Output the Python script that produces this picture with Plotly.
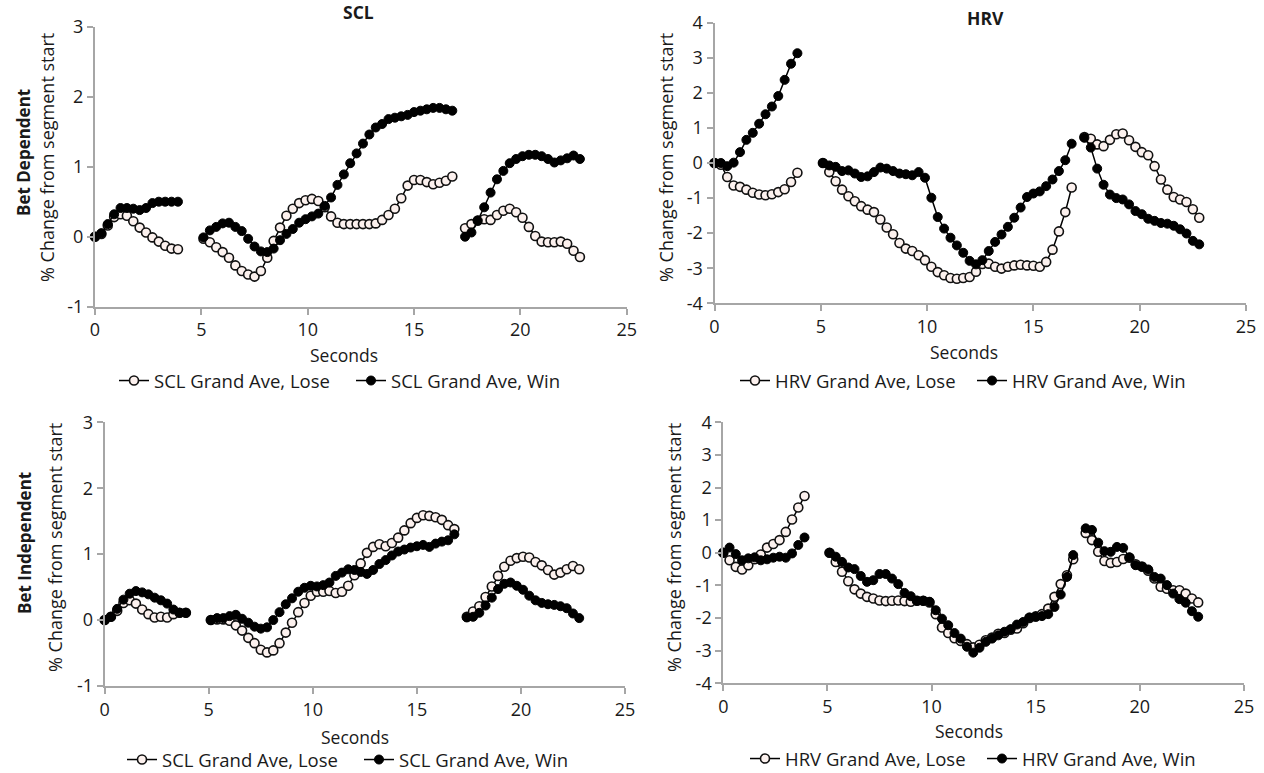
import plotly.graph_objects as go

# ---------------- time grid (seconds) ----------------
T1 = [0.0, 0.3, 0.6, 0.9, 1.2, 1.5, 1.8, 2.1, 2.4, 2.7, 3.0, 3.3, 3.6, 3.9]
T2 = [5.1, 5.4, 5.7, 6.0, 6.3, 6.6, 6.9, 7.2, 7.5, 7.8, 8.1, 8.4, 8.7, 9.0, 9.3, 9.6, 9.9, 10.2, 10.5, 10.8,
      11.1, 11.4, 11.7, 12.0, 12.3, 12.6, 12.9, 13.2, 13.5, 13.8, 14.1, 14.4, 14.7, 15.0, 15.3, 15.6, 15.9, 16.2, 16.5, 16.8]
T3 = [17.4, 17.7, 18.0, 18.3, 18.6, 18.9, 19.2, 19.5, 19.8, 20.1, 20.4, 20.7, 21.0, 21.3, 21.6, 21.9, 22.2, 22.5, 22.8]

# ---------------- SCL, Bet Dependent ----------------
scl_dep_lose = [0.0, 0.04, 0.16, 0.28, 0.32, 0.30, 0.22, 0.13, 0.06, -0.01, -0.07, -0.13, -0.17, -0.18,
                -0.03, -0.08, -0.15, -0.22, -0.30, -0.41, -0.49, -0.54, -0.57, -0.49, -0.30, -0.06, 0.13, 0.30, 0.40,
                0.48, 0.52, 0.54, 0.51, 0.42, 0.29, 0.20, 0.18, 0.18, 0.18, 0.18, 0.18, 0.19, 0.24, 0.31, 0.40,
                0.55, 0.73, 0.81, 0.81, 0.78, 0.75, 0.77, 0.80, 0.86,
                0.12, 0.18, 0.23, 0.25, 0.24, 0.31, 0.37, 0.40, 0.35, 0.27, 0.14, 0.01, -0.07, -0.08, -0.08, -0.07,
                -0.10, -0.20, -0.29]
scl_dep_win = [0.0, 0.05, 0.18, 0.32, 0.41, 0.41, 0.40, 0.38, 0.41, 0.48, 0.50, 0.50, 0.50, 0.50,
               -0.01, 0.09, 0.14, 0.19, 0.20, 0.14, 0.08, -0.03, -0.14, -0.21, -0.22, -0.17, -0.05, 0.04, 0.11,
               0.20, 0.25, 0.29, 0.33, 0.44, 0.56, 0.74, 0.89, 1.05, 1.19, 1.33, 1.46, 1.56, 1.61, 1.68, 1.70,
               1.72, 1.74, 1.78, 1.80, 1.82, 1.84, 1.84, 1.82, 1.80,
               0.0, 0.06, 0.23, 0.42, 0.63, 0.82, 0.94, 1.05, 1.11, 1.15, 1.17, 1.17, 1.15, 1.11, 1.06, 1.09,
               1.12, 1.16, 1.11]

# ---------------- HRV, Bet Dependent ----------------
hrv_dep_lose = [0.0, -0.05, -0.40, -0.64, -0.68, -0.76, -0.85, -0.90, -0.92, -0.89, -0.83, -0.75, -0.54, -0.28,
                0.0, -0.26, -0.52, -0.76, -0.95, -1.09, -1.23, -1.33, -1.40, -1.61, -1.84, -2.03, -2.28, -2.44,
                -2.51, -2.63, -2.77, -2.96, -3.11, -3.20, -3.28, -3.30, -3.28, -3.25, -3.10, -2.88, -2.87, -2.96,
                -3.01, -2.96, -2.92, -2.90, -2.92, -2.93, -2.96, -2.82, -2.47, -1.95, -1.40, -0.70,
                0.74, 0.69, 0.53, 0.48, 0.66, 0.82, 0.84, 0.65, 0.46, 0.31, 0.22, -0.09, -0.47, -0.76, -0.97,
                -1.04, -1.11, -1.32, -1.56]
hrv_dep_win = [0.0, 0.0, -0.09, 0.01, 0.31, 0.66, 0.86, 1.12, 1.39, 1.61, 1.91, 2.37, 2.83, 3.13,
               0.0, -0.07, -0.11, -0.23, -0.21, -0.30, -0.40, -0.38, -0.26, -0.13, -0.16, -0.23, -0.30, -0.32,
               -0.35, -0.26, -0.42, -0.99, -1.54, -1.87, -2.13, -2.35, -2.56, -2.79, -2.89, -2.77, -2.51, -2.25,
               -2.04, -1.82, -1.56, -1.27, -0.97, -0.87, -0.81, -0.66, -0.47, -0.23, 0.08, 0.55,
               0.72, 0.44, -0.16, -0.62, -0.90, -1.00, -1.04, -1.18, -1.37, -1.46, -1.59, -1.65, -1.71, -1.73,
               -1.79, -1.89, -2.01, -2.22, -2.32]

# ---------------- SCL, Bet Independent ----------------
scl_ind_lose = [0.0, 0.05, 0.14, 0.26, 0.30, 0.25, 0.16, 0.09, 0.04, 0.05, 0.04, 0.09, 0.11, 0.11,
                0.0, 0.01, 0.01, -0.01, -0.08, -0.16, -0.27, -0.35, -0.45, -0.49, -0.46, -0.35, -0.19, -0.04,
                0.12, 0.26, 0.37, 0.43, 0.43, 0.44, 0.41, 0.43, 0.52, 0.68, 0.86, 1.02, 1.11, 1.15, 1.12, 1.17,
                1.25, 1.36, 1.47, 1.55, 1.59, 1.58, 1.56, 1.52, 1.44, 1.38,
                0.05, 0.13, 0.21, 0.35, 0.51, 0.67, 0.81, 0.90, 0.94, 0.96, 0.95, 0.88, 0.83, 0.76, 0.69, 0.72,
                0.77, 0.82, 0.77]
scl_ind_win = [0.0, 0.05, 0.17, 0.31, 0.40, 0.44, 0.42, 0.39, 0.34, 0.30, 0.25, 0.16, 0.11, 0.11,
               0.0, 0.03, 0.03, 0.06, 0.08, 0.02, -0.04, -0.10, -0.13, -0.11, 0.0, 0.12, 0.24, 0.33, 0.43, 0.49,
               0.52, 0.51, 0.53, 0.57, 0.67, 0.72, 0.77, 0.76, 0.73, 0.70, 0.76, 0.85, 0.91, 0.98, 1.04, 1.07,
               1.10, 1.12, 1.14, 1.11, 1.16, 1.19, 1.21, 1.30,
               0.04, 0.05, 0.11, 0.22, 0.34, 0.47, 0.55, 0.57, 0.52, 0.46, 0.37, 0.30, 0.26, 0.24, 0.23, 0.21,
               0.18, 0.10, 0.03]

# ---------------- HRV, Bet Independent ----------------
hrv_ind_lose = [0.0, -0.23, -0.43, -0.51, -0.38, -0.20, -0.05, 0.16, 0.27, 0.39, 0.64, 1.02, 1.39, 1.74,
                0.0, -0.28, -0.58, -0.87, -1.12, -1.25, -1.35, -1.40, -1.46, -1.48, -1.47, -1.46, -1.48, -1.50,
                -1.47, -1.47, -1.52, -1.88, -2.29, -2.46, -2.62, -2.70, -2.80, -2.90, -2.82, -2.68, -2.60, -2.48,
                -2.46, -2.36, -2.32, -2.16, -2.00, -1.95, -1.88, -1.71, -1.35, -0.96, -0.69, -0.20,
                0.61, 0.39, 0.03, -0.25, -0.31, -0.28, -0.19, -0.15, -0.35, -0.42, -0.55, -0.79, -1.04, -1.10,
                -1.15, -1.15, -1.25, -1.40, -1.52]
hrv_ind_win = [0.0, 0.16, -0.04, -0.23, -0.17, -0.14, -0.23, -0.20, -0.15, -0.12, -0.15, -0.02, 0.24, 0.47,
               0.0, -0.12, -0.28, -0.45, -0.50, -0.71, -0.89, -0.84, -0.65, -0.65, -0.79, -0.96, -1.23, -1.33,
               -1.47, -1.47, -1.50, -1.76, -2.02, -2.22, -2.46, -2.63, -2.88, -3.06, -2.91, -2.73, -2.63, -2.53,
               -2.42, -2.34, -2.20, -2.12, -1.98, -1.96, -1.94, -1.88, -1.66, -1.28, -0.74, -0.07,
               0.75, 0.70, 0.31, 0.05, 0.03, 0.18, 0.15, -0.14, -0.38, -0.43, -0.51, -0.74, -0.79, -0.99, -1.25,
               -1.42, -1.53, -1.79, -1.96]

X_TICKS = [0, 5, 10, 15, 20, 25]
SCL_TICKS = [-1, 0, 1, 2, 3]
HRV_TICKS = [-4, -3, -2, -1, 0, 1, 2, 3, 4]

W, H = 1264, 773
FONT = "Open Sans"
AXIS_GREY = "#a6a6a6"
WHITE_FILL = "#fcf1ee"
TXT = "#1a1a1a"
TICK_SIZE = 18


def px(x):
    return x / W


def py(y):
    return 1 - y / H


def with_gaps(values):
    n1, n2 = len(T1), len(T2)
    xs = T1 + [None] + T2 + [None] + T3
    ys = values[:n1] + [None] + values[n1:n1 + n2] + [None] + values[n1 + n2:]
    return xs, ys


fig = go.Figure()

panels = [
    ("x", "y", "legend", scl_dep_lose, scl_dep_win, "SCL"),
    ("x2", "y2", "legend2", hrv_dep_lose, hrv_dep_win, "HRV"),
    ("x3", "y3", "legend3", scl_ind_lose, scl_ind_win, "SCL"),
    ("x4", "y4", "legend4", hrv_ind_lose, hrv_ind_win, "HRV"),
]

for xa, ya, lg, lose, win, pre in panels:
    xs, ys = with_gaps(lose)
    fig.add_trace(go.Scatter(
        x=xs, y=ys, xaxis=xa, yaxis=ya, legend=lg, mode="lines+markers",
        name=f"{pre} Grand Ave, Lose", connectgaps=False, cliponaxis=False,
        line=dict(color="black", width=1.5),
        marker=dict(symbol="circle", size=9, color=WHITE_FILL, line=dict(color="#111111", width=1.6)),
    ))
    xs, ys = with_gaps(win)
    fig.add_trace(go.Scatter(
        x=xs, y=ys, xaxis=xa, yaxis=ya, legend=lg, mode="lines+markers",
        name=f"{pre} Grand Ave, Win", connectgaps=False, cliponaxis=False,
        line=dict(color="black", width=1.5),
        marker=dict(symbol="circle", size=9, color="black", line=dict(color="black", width=1)),
    ))


def xaxis_style(domain, anchor):
    return dict(domain=domain, anchor=anchor, range=[0, 25], tickvals=X_TICKS,
                ticktext=[str(v) for v in X_TICKS], showline=True, linecolor=AXIS_GREY, linewidth=2,
                ticks="outside", ticklen=6, tickwidth=2, tickcolor=AXIS_GREY, showgrid=False,
                zeroline=False, automargin=False, tickfont=dict(family=FONT, size=TICK_SIZE, color=TXT))


def yaxis_style(domain, anchor, rng, tv):
    return dict(domain=domain, anchor=anchor, range=rng, tickvals=tv,
                ticktext=[str(v) for v in tv], showline=True, linecolor=AXIS_GREY, linewidth=2,
                ticks="outside", ticklen=6, tickwidth=2, tickcolor=AXIS_GREY, showgrid=False,
                zeroline=False, automargin=False, tickfont=dict(family=FONT, size=TICK_SIZE, color=TXT))


# panel pixel boxes: (left, right, top, bottom)
TL = (95.0, 626.7, 26.7, 306.7)
TR = (714.5, 1246.0, 22.7, 303.3)
BL = (104.7, 625.0, 422.3, 686.0)
BR = (723.3, 1244.0, 422.3, 683.3)

fig.update_layout(
    xaxis=xaxis_style([px(TL[0]), px(TL[1])], "y"),
    yaxis=yaxis_style([py(TL[3]), py(TL[2])], "x", [-1, 3], SCL_TICKS),
    xaxis2=xaxis_style([px(TR[0]), px(TR[1])], "y2"),
    yaxis2=yaxis_style([py(TR[3]), py(TR[2])], "x2", [-4, 4], HRV_TICKS),
    xaxis3=xaxis_style([px(BL[0]), px(BL[1])], "y3"),
    yaxis3=yaxis_style([py(BL[3]), py(BL[2])], "x3", [-1, 3], SCL_TICKS),
    xaxis4=xaxis_style([px(BR[0]), px(BR[1])], "y4"),
    yaxis4=yaxis_style([py(BR[3]), py(BR[2])], "x4", [-4, 4], HRV_TICKS),
)


def legend_style(left, cy):
    return dict(orientation="h", x=px(left - 5), y=py(cy), xanchor="left", yanchor="middle",
                xref="paper", yref="paper", bgcolor="rgba(0,0,0,0)", borderwidth=0,
                font=dict(family=FONT, size=18.5, color=TXT), itemwidth=30,
                entrywidth=192, entrywidthmode="pixels", traceorder="normal")


fig.update_layout(
    legend=legend_style(119, 381),
    legend2=legend_style(740, 381),
    legend3=legend_style(127, 760),
    legend4=legend_style(750, 759),
)

ann = []


def text(x, y, s, size=16, bold=False, angle=0):
    ann.append(dict(x=px(x), y=py(y), xref="paper", yref="paper", text=(f"<b>{s}</b>" if bold else s),
                    showarrow=False, xanchor="center", yanchor="middle", textangle=angle,
                    font=dict(family=FONT, size=size, color=TXT)))


text(358, 12, "SCL", 17.5, bold=True)
text(985, 18, "HRV", 17.5, bold=True)
text(24, 153, "Bet Dependent", 17, bold=True, angle=-90)
text(24, 543, "Bet Independent", 17, bold=True, angle=-90)
text(47, 158, "% Change from segment start", 18, angle=-90)
text(666, 158, "% Change from segment start", 18, angle=-90)
text(55, 548, "% Change from segment start", 18, angle=-90)
text(674, 548, "% Change from segment start", 18, angle=-90)
text(344, 355, "Seconds", 17.5)
text(964, 352, "Seconds", 17.5)
text(355, 737, "Seconds", 17.5)
text(969, 731, "Seconds", 17.5)

fig.update_layout(
    annotations=ann,
    width=W, height=H, autosize=False,
    margin=dict(l=0, r=0, t=0, b=0, pad=0, autoexpand=False),
    paper_bgcolor="white", plot_bgcolor="white",
    font=dict(family=FONT, size=16, color=TXT),
    showlegend=True,
)

fig.write_html(
    "out.html",
    config={"displayModeBar": False},
    post_script="document.documentElement.style.margin='0';document.documentElement.style.overflow='hidden';"
                "document.body.style.margin='0';document.body.style.overflow='hidden';",
)
